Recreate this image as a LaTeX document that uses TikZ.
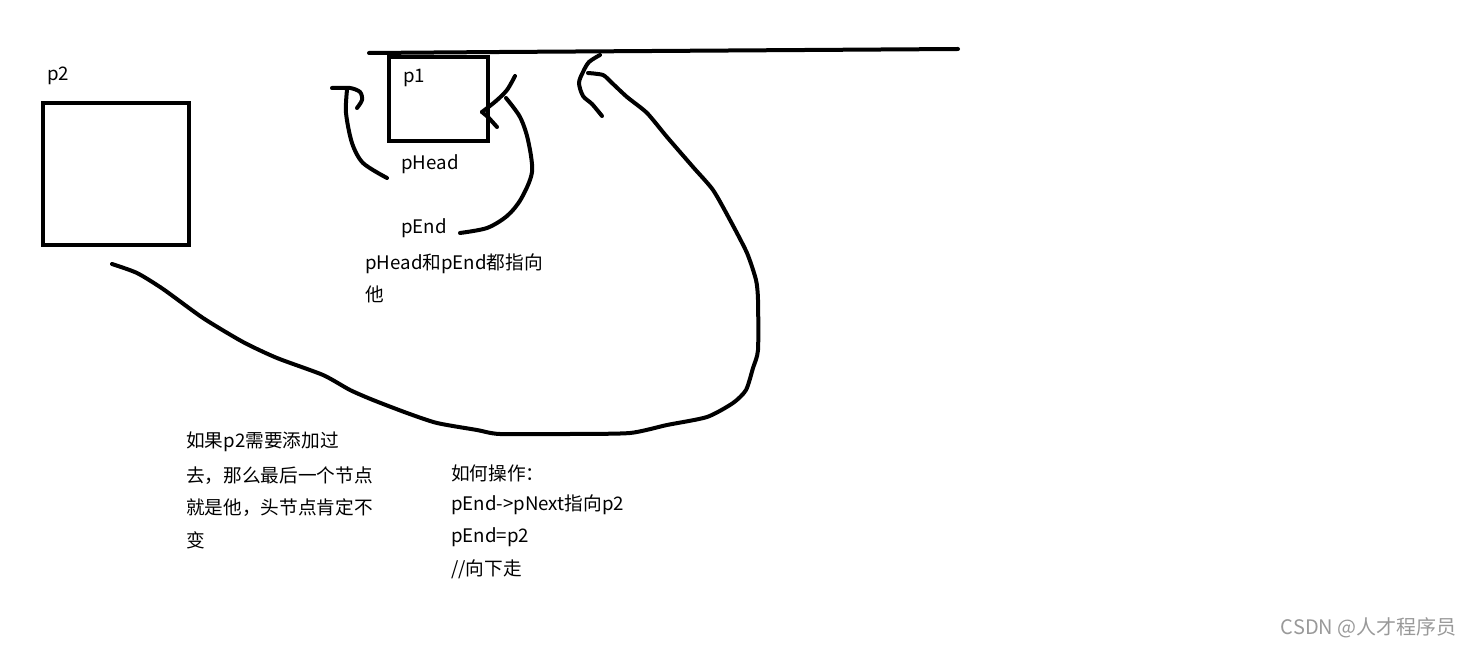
\documentclass[tikz,border=0pt]{standalone}
\usepackage{fontspec}
\setmainfont{Noto Sans CJK SC}
\begin{document}
\begin{tikzpicture}[x=0.75pt,y=-0.75pt,
  stroke/.style={line width=3pt,line cap=round,line join=round},
  txt/.style={anchor=west,inner sep=0pt,font=\fontsize{14}{17}\selectfont},
]
\useasboundingbox (0,0) rectangle (1473,648);
% boxes
\node[draw,line width=3.2pt,inner sep=0pt,minimum width=146*0.75pt,minimum height=142*0.75pt] (p2box) at (116,174) {};
\node[draw,line width=3.2pt,inner sep=0pt,minimum width=99*0.75pt,minimum height=84*0.75pt] (p1box) at (438.5,99) {};
% top line
\draw[stroke] (369,53) -- (500,52) -- (958,49);
% labels
\node[txt] (lp2) at (47,76) {p2};
\node[txt] (lp1) at (403,78) {p1};
\node[txt] (lph) at (401,164) {pHead};
\node[txt] (lpe) at (401,228) {pEnd};
\node[txt] (t1) at (365,264) {pHead和pEnd都指向};
\node[txt] (t2) at (365,294) {他};
\node[txt] (a1) at (186,442) {如果p2需要添加过};
\node[txt] (a2) at (186,476) {去，那么最后一个节点};
\node[txt] (a3) at (186,508) {就是他，头节点肯定不};
\node[txt] (a4) at (186,540) {变};
\node[txt] (b1) at (451,473) {如何操作：};
\node[txt] (b2) at (451,505) {pEnd->pNext指向p2};
\node[txt] (b3) at (451,537) {pEnd=p2};
\node[txt] (b4) at (451,569) {//向下走};
\node[anchor=east,inner sep=0pt,text=black!40,font=\fontsize{15}{18}\selectfont] (wm) at (1457,628) {CSDN @人才程序员};
% pHead stroke (left of p1)
\draw[stroke] plot[smooth] coordinates {(332,88) (350,88) (360,92) (362,100) (357,108)};
\draw[stroke] plot[smooth] coordinates {(347,90) (346,113) (352,143) (363,163) (387,178)};
% arrow into p1 right side
\draw[stroke] plot[smooth] coordinates {(515,76) (507,90) (496,101) (482,112)};
\draw[stroke] (482,112) -- (488,117) -- (497,127);
% pEnd stroke
\draw[stroke] plot[smooth] coordinates {(506,98) (520,117) (528,140) (532,172) (521,199) (507,216) (487,228) (460,233)};
% big curve: hook near top line
\draw[stroke] plot[smooth] coordinates {(600,55) (589,62) (583,72) (579,83) (583,96) (592,104) (602,116)};
% big curve to p2
\draw[stroke] plot[smooth,tension=0.4] coordinates {(588,73) (603,75) (612,83) (627,97) (647,113) (667,137) (693,167) (713,190) (730,220) (747,253) (756,280) (758,300) (758,350) (753,368) (746,390) (733,403) (707,417) (667,425) (630,433) (570,434) (500,434) (477,430) (437,423) (407,413) (373,400) (350,390) (323,375) (277,358) (243,342) (203,318) (163,289) (137,273) (112,264)};
\end{tikzpicture}
\end{document}
